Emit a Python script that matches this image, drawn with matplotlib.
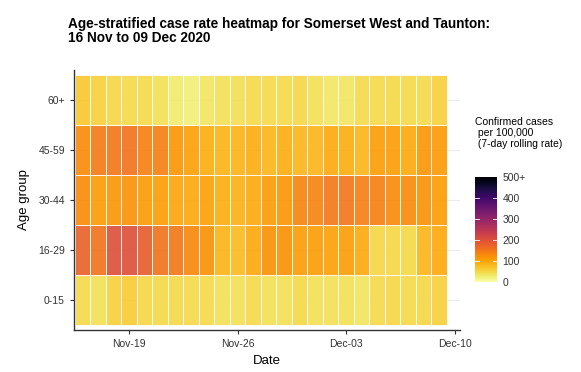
import numpy as np
import pandas as pd
import matplotlib
matplotlib.use("Agg")
import matplotlib.pyplot as plt
import matplotlib.dates as mdates
from matplotlib.colors import Normalize

plt.rcParams['font.family'] = ['Liberation Sans', 'DejaVu Sans']

dates = pd.date_range("2020-11-16", "2020-12-09", freq="D")
age_groups = ["0-15", "16-29", "30-44", "45-59", "60+"]

rate_0_15 = [45, 40, 55, 62, 50, 48, 48, 45, 45, 40, 40, 45,
             40, 40, 48, 40, 40, 40, 37, 45, 50, 45, 50, 55]
rate_16_29 = [175, 155, 200, 200, 180, 155, 150, 130, 120, 85, 80, 97,
              120, 120, 108, 108, 105, 108, 95, 50, 50, 48, 83, 95]
rate_30_44 = [125, 110, 115, 118, 110, 108, 98, 97, 105, 90, 88, 95,
              110, 115, 135, 135, 148, 152, 140, 140, 128, 125, 118, 108]
rate_45_59 = [125, 145, 150, 155, 140, 140, 115, 105, 90, 85, 85, 90,
              83, 90, 83, 83, 95, 90, 83, 108, 108, 95, 115, 110]
rate_60p = [65, 55, 50, 45, 45, 40, 28, 25, 35, 40, 42, 45,
            45, 45, 50, 40, 32, 35, 45, 45, 48, 45, 45, 55]

tick_dates = pd.to_datetime(["2020-11-19", "2020-11-26", "2020-12-03", "2020-12-10"])
tick_labels = ["Nov-19", "Nov-26", "Dec-03", "Dec-10"]
cbar_ticks = [0, 100, 200, 300, 400, 500]
cbar_labels = ["0", "100", "200", "300", "400", "500+"]

Z = np.array([rate_0_15, rate_16_29, rate_30_44, rate_45_59, rate_60p], dtype=float)

fig = plt.figure(figsize=(5.81, 3.72), dpi=100)
ax = fig.add_axes([74/581, 1-330/372, (460-74)/581, (330-70)/372])

dnum = mdates.date2num(dates)
xedges = np.concatenate([dnum - 0.5, [dnum[-1] + 0.5]])
yedges = np.arange(len(age_groups) + 1) - 0.5
cmap = plt.get_cmap("inferno_r")
norm = Normalize(0, 500)

for y in range(len(age_groups)):
    ax.axhline(y, color="#ebebeb", lw=0.8, zorder=0)

mesh = ax.pcolormesh(xedges, yedges, Z, cmap=cmap, norm=norm,
                     edgecolors=(1, 1, 1, 0.22), linewidth=0.6, alpha=0.92, zorder=1)

ax.set_xlim(dnum[0] - 0.55, dnum[0] + 24.35)
ax.set_ylim(-0.6, 4.6)
ax.set_yticks(range(len(age_groups)))
ax.set_yticklabels(age_groups)
ax.set_xticks(mdates.date2num(tick_dates))
ax.set_xticklabels(tick_labels)
ax.tick_params(axis="both", labelsize=7.5, colors="#333333", length=3, width=0.8)
ax.tick_params(axis="both", labelcolor="#333333")
for s in ["top", "right"]:
    ax.spines[s].set_visible(False)
for s in ["left", "bottom"]:
    ax.spines[s].set_color("#333333")
    ax.spines[s].set_linewidth(1.0)
ax.set_xlabel("Date", fontsize=9.5, labelpad=4)
ax.set_ylabel("Age group", fontsize=9.5, labelpad=6)

fig.text(68/581, 1-17/372, "Age-stratified case rate heatmap for Somerset West and Taunton:\n16 Nov to 09 Dec 2020",
         fontsize=9.8, fontweight="bold", ha="left", va="top", linespacing=1.02)

# legend
fig.text(475/581, 1-117/372, "Confirmed cases\n per 100,000\n (7-day rolling rate)",
         fontsize=7.5, ha="left", va="top", linespacing=1.1)
cax = fig.add_axes([475/581, 1-282/372, 22/581, 105/372])
grad = np.linspace(0, 500, 256).reshape(-1, 1)
cax.imshow(grad, cmap=cmap, norm=norm, aspect="auto", origin="lower", extent=[0, 1, 0, 500])
for t in cbar_ticks[1:-1]:
    cax.plot([0, 0.2], [t, t], color="white", lw=0.6)
    cax.plot([0.8, 1], [t, t], color="white", lw=0.6)
cax.set_xlim(0, 1)
cax.set_ylim(0, 500)
cax.set_xticks([])
cax.yaxis.tick_right()
cax.set_yticks(cbar_ticks)
cax.set_yticklabels(cbar_labels)
cax.tick_params(axis="y", length=0, labelsize=7.5, colors="#333333", pad=4)
for s in cax.spines.values():
    s.set_visible(False)

fig.savefig("out.png", dpi=100)
